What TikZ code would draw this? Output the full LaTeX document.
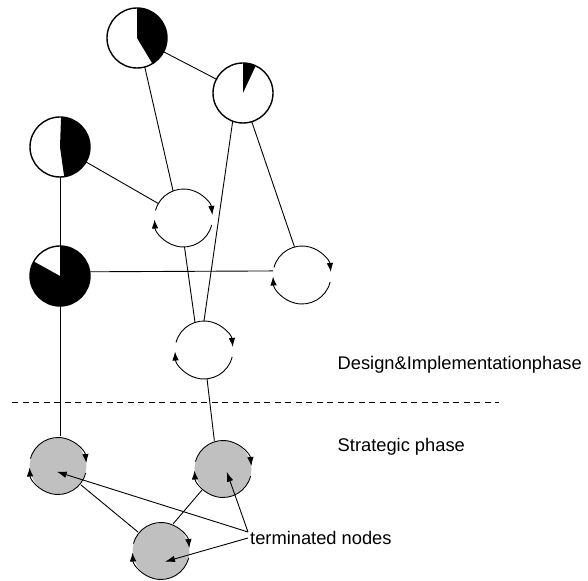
\documentclass[tikz,border=0pt]{standalone}
\usepackage{fontspec}
\setmainfont{Liberation Sans}
\usetikzlibrary{arrows.meta,calc}
\definecolor{termgray}{RGB}{192,192,192}
\newcommand\piewedge[4]{%
  \fill (#1.center) -- ([shift={(#3:#2)}]#1.center) arc[start angle=#3, end angle=#4, radius=#2] -- cycle;
  \draw[outline] (#1.center) circle[radius=#2];}
\newcommand\cyclearcs[2]{%
  \draw[cyclearc] ([shift={(165:#2)}]#1.center) arc[start angle=165, end angle=6, radius=#2];
  \draw[cyclearc] ([shift={(-14:#2)}]#1.center) arc[start angle=-14, end angle=-177, radius=#2];}
\begin{document}
\begin{tikzpicture}[x=1pt,y=1pt,
  pie/.style={circle, minimum size=60pt, inner sep=0pt, fill=white},
  cyc/.style={circle, minimum size=58pt, inner sep=0pt},
  term/.style={circle, minimum size=58pt, inner sep=0pt, fill=termgray, draw=white, line width=1.2pt},
  edge/.style={line width=0.9pt},
  cyclearc/.style={line width=0.9pt, -{Latex[length=9pt,width=6.5pt]}},
  outline/.style={line width=1.4pt},
  lbl/.style={font=\fontsize{18.3}{22}\selectfont, inner sep=0pt, anchor=base west},
  ptr/.style={line width=0.9pt, -{Latex[length=10pt,width=6.5pt]}},
  phase/.style={dash pattern=on 6pt off 4.5pt, line width=0.8pt}
]
\useasboundingbox (0,0) rectangle (588,580);

% pie nodes
\node[pie] (A) at (137,542) {};
\node[pie] (B) at (243,487) {};
\node[pie] (C) at (60,433) {};
\node[pie] (D) at (60,304) {};
\piewedge{A}{30pt}{90}{-59}
\piewedge{B}{30pt}{90}{65}
\piewedge{C}{30pt}{88}{-82}
\piewedge{D}{30pt}{151}{450}

% cycle nodes
\node[cyc] (E) at (183.5,362) {};
\node[cyc] (F) at (302,305) {};
\node[cyc] (G) at (204,230) {};
\cyclearcs{E}{29pt}
\cyclearcs{F}{29pt}
\cyclearcs{G}{29pt}

% terminated nodes
\node[term] (H) at (58,114) {};
\node[term] (I) at (223,111) {};
\node[term] (J) at (161,29) {};
\cyclearcs{H}{28.5pt}
\cyclearcs{I}{28.5pt}
\cyclearcs{J}{28.5pt}

% edges
\draw[edge] (A) -- (B);
\draw[edge] (A.285) -- (E.111);
\draw[edge] (B.250) -- (G.90);
\draw[edge] (B.287) -- (F.105);
\draw[edge] (C) -- (E);
\draw[edge] (C) -- (D);
\draw[edge] (D.8) -- (F.172);
\draw[edge] (E.272) -- (G.108);
\draw[edge] (D) -- (D |- H.north);
\draw[edge] (G.276) -- (I.107);
\draw[edge] (H) -- (J);
\draw[edge] (I.225) -- (J.66);

% phase separator and labels
\coordinate (sepL) at (12,178);
\coordinate (sepR) at (499,178);
\draw[phase] (sepL) -- (sepR);
\node[lbl] (design) at (337.5,210) {Design\&Implementationphase};
\node[lbl] (strategic) at (337.5,128.3) {Strategic phase};
\node[lbl] (T) at (250,35) {terminated nodes};

% pointers
\coordinate (s1) at ([shift={(-2pt,13pt)}]T.base west);
\coordinate (s2) at ([shift={(-2pt,7pt)}]T.base west);
\coordinate (tH) at (56.7,108.3);
\coordinate (tI) at (226.7,108.3);
\coordinate (tJ) at (165,18.3);
\draw[ptr] (s1) -- (tH);
\draw[ptr] (s1) -- (tI);
\draw[ptr] (s2) -- (tJ);
\end{tikzpicture}
\end{document}
